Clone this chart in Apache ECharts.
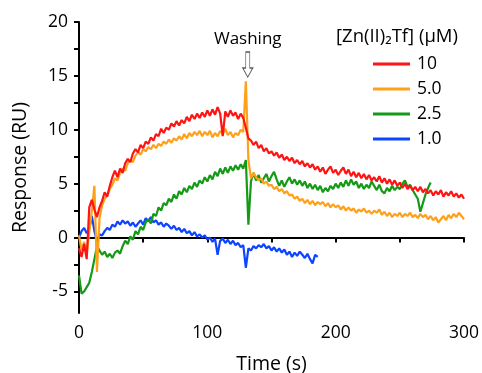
<!DOCTYPE html>
<html>
<head>
<meta charset="utf-8">
<script src="https://cdn.jsdelivr.net/npm/echarts@6/dist/echarts.min.js"></script>
<style>
  html, body { margin: 0; padding: 0; background: #fff; }
  #chart { width: 482px; height: 373px; }
</style>
</head>
<body>
<div id="chart"></div>
<script>
// sampling step of every trace (s)
const step = 2

const legendNames = ['10', '5.0', '2.5', '1.0']

// [Zn(II)2Tf] = 10 uM, t = 0..300
const red = [
  -1.0, -1.8, -0.6, -2.0, 2.8, 3.5, 2.6, 1.9, 2.8, 3.4,
  4.2, 3.8, 4.8, 5.6, 6.2, 5.6, 6.4, 6.0, 6.9, 7.3,
  7.0, 7.8, 8.2, 7.9, 8.6, 8.3, 8.9, 8.7, 9.3, 9.0,
  9.6, 9.4, 10.1, 9.7, 10.2, 10.0, 10.6, 10.3, 10.8, 10.4,
  10.9, 10.6, 11.2, 10.8, 11.4, 11.0, 11.5, 11.1, 11.6, 11.2,
  11.8, 11.3, 11.9, 11.4, 12.1, 11.5, 9.4, 11.7, 11.2, 11.8,
  11.3, 11.6, 11.0, 11.5, 11.1, 10.2, 9.2, 9.0, 8.6, 8.9,
  8.3, 8.6, 8.0, 8.3, 7.8, 8.0, 7.6, 7.9, 7.4, 7.7,
  7.2, 7.5, 7.1, 7.4, 6.9, 7.2, 6.8, 7.1, 6.6, 6.9,
  6.5, 6.8, 6.3, 6.6, 6.1, 6.5, 5.9, 6.3, 6.6, 6.0,
  6.3, 5.8, 6.2, 6.5, 5.9, 6.3, 5.7, 6.1, 5.6, 6.0,
  5.5, 5.9, 5.4, 5.8, 5.3, 5.6, 5.2, 5.7, 5.1, 5.5,
  5.0, 5.4, 4.9, 5.3, 4.8, 5.1, 4.6, 5.0, 4.5, 4.8,
  4.4, 4.7, 4.3, 4.7, 4.2, 4.5, 4.1, 4.4, 3.9, 4.3,
  4.0, 4.4, 3.8, 4.2, 3.9, 4.3, 3.8, 4.1, 3.7, 4.0,
  3.6
]

// 5.0 uM, t = 0..300
const orange = [
  0.2, -1.2, -0.4, -1.5, 0.5, 2.5, 4.8, -3.2, 1.8, 3.0,
  3.6, 3.9, 4.5, 4.9, 5.5, 5.3, 6.0, 6.4, 6.2, 6.9,
  7.2, 7.0, 7.6, 7.9, 7.7, 8.2, 8.0, 8.4, 8.2, 8.6,
  8.3, 8.7, 8.5, 8.9, 8.7, 9.1, 8.8, 9.2, 9.0, 9.4,
  9.1, 9.6, 9.2, 9.7, 9.4, 9.8, 9.5, 9.9, 9.4, 9.8,
  9.5, 9.9, 9.3, 9.7, 9.4, 9.9, 9.6, 10.1, 9.5, 9.8,
  9.3, 9.7, 9.5, 10.0, 9.8, 14.5, 7.2, 5.5, 6.0, 5.6,
  5.3, 5.5, 5.0, 5.2, 4.8, 4.9, 4.5, 4.7, 4.3, 4.5,
  4.1, 4.3, 3.9, 4.0, 3.6, 3.8, 3.4, 3.6, 3.2, 3.5,
  3.1, 3.4, 3.0, 3.3, 3.1, 3.3, 2.9, 3.2, 2.8, 3.1,
  2.8, 3.0, 2.6, 2.9, 2.5, 2.8, 2.5, 2.7, 2.3, 2.6,
  2.4, 2.7, 2.3, 2.5, 2.2, 2.5, 2.3, 2.6, 2.1, 2.4,
  2.0, 2.3, 1.9, 2.2, 2.0, 2.3, 1.9, 2.2, 2.0, 2.3,
  1.9, 2.1, 1.8, 2.2, 1.9, 2.1, 1.7, 2.0, 1.6, 1.9,
  1.4, 1.7, 2.0, 1.6, 2.1, 1.8, 2.2, 1.9, 2.3, 2.0,
  1.7
]

// 2.5 uM, t = 0..274
const green = [
  -3.5, -5.2, -5.0, -4.6, -4.2, -3.2, -2.0, -0.8, -1.2, -1.6,
  -1.3, -1.8, -1.5, -1.9, -1.4, -1.2, -1.5, -0.8, -0.3, -0.6,
  0.1, -0.2, 0.6, 0.3, 1.0, 0.7, 1.4, 1.7, 1.3, 2.2,
  2.0, 2.8, 2.5, 3.2, 3.0, 3.6, 3.3, 4.0, 3.6, 4.3,
  4.0, 4.6, 4.2, 4.8, 4.5, 5.1, 4.7, 5.3, 5.0, 5.6,
  5.2, 5.8, 5.4, 6.1, 5.7, 6.4, 5.9, 6.5, 6.0, 6.6,
  6.2, 6.7, 6.3, 6.8, 6.4, 7.2, 1.2, 5.2, 6.0, 5.3,
  5.8, 5.1, 5.5, 5.9, 5.2, 5.7, 6.1, 5.4, 4.8, 5.3,
  4.7, 5.2, 5.6, 5.0, 5.4, 4.9, 5.3, 4.8, 5.2, 4.6,
  5.0, 4.5, 4.9, 4.4, 4.8, 4.2, 4.6, 4.3, 4.8, 4.5,
  5.0, 4.6, 5.1, 4.7, 5.3, 4.8, 5.4, 4.9, 5.2, 4.6,
  5.0, 4.5, 4.9, 4.6, 5.2, 4.8, 4.4, 4.9, 4.3, 4.1,
  4.6, 4.3, 4.8, 4.4, 4.7, 4.5, 5.0, 5.3, 4.7, 4.9,
  4.4, 4.0, 3.6, 2.4, 3.2, 4.0, 4.6, 5.1
]

// 1.0 uM, t = 0..186
const blue = [
  0.0, 0.6, 0.9, 0.4, 0.8, 2.0, 0.6, -0.4, 0.3, 0.2,
  0.6, 0.9, 0.7, 1.2, 1.0, 1.5, 1.2, 1.6, 1.3, 1.5,
  1.1, 1.4, 1.0, 1.3, 1.6, 1.2, 1.8, 1.5, 1.9, 1.4,
  1.6, 1.2, 1.4, 1.0, 1.3, 1.1, 0.8, 1.1, 0.7, 0.9,
  0.5, 0.8, 0.4, 0.6, 0.2, 0.5, 0.1, 0.3, 0.0, 0.2,
  -0.2, 0.0, -0.4, -0.1, -1.6, -0.3, -0.1, -0.5, -0.2, -0.6,
  -0.3, -0.7, -0.5, -0.9, -0.7, -2.8, -1.0, -1.2, -0.8, -1.0,
  -0.7, -0.9, -0.6, -1.0, -0.8, -1.2, -0.9, -1.3, -1.0, -1.4,
  -1.1, -1.6, -1.3, -1.8, -1.4, -1.7, -1.3, -1.6, -1.9, -1.5,
  -2.0, -2.4, -1.6, -1.8
]

const xTicks = [0, 50, 100, 150, 200, 250, 300]
const xLabels = [0, 100, 200, 300]
const yTicks = [-5, -2.5, 0, 2.5, 5, 7.5, 10, 12.5, 15, 17.5, 20]
const yLabels = [-5, 0, 5, 10, 15, 20]

const washTime = 131.5

const colors = ['#ff1414', '#ffa01a', '#159a17', '#0d44ff']
const font = 'Open Sans'

const toPairs = (arr) => arr.map((v, i) => [i * step, v])

const initChart = () => {
  let myChart = echarts.init(document.getElementById('chart'))
  let axisCommon = {
    axisLine: { show: true, lineStyle: { color: '#000', width: 2 } },
    axisTick: { show: true, length: 5, lineStyle: { color: '#000', width: 2 } },
    splitLine: { show: false },
    axisLabel: { color: '#000', fontSize: 17.5, fontFamily: font, margin: 11 },
    nameTextStyle: { color: '#000', fontSize: 19.5, fontFamily: font },
  }
  let option = {
    animation: false,
    color: colors,
    title: {
      text: '[Zn(II)\u2082Tf] (\u03bcM)',
      left: 331,
      top: 22,
      textStyle: { color: '#000', fontSize: 18.5, fontWeight: 'normal', fontFamily: font },
    },
    legend: {
      data: legendNames,
      orient: 'vertical',
      left: 368,
      top: 50,
      itemWidth: 37,
      itemHeight: 3,
      itemGap: 7,
      icon: 'rect',
      textStyle: { color: '#000', fontSize: 17.5, fontFamily: font, padding: [0, 0, 0, 2] },
    },
    grid: { left: 79, right: 18, top: 22, bottom: 60, outerBoundsMode: 'none', containLabel: false },
    xAxis: {
      ...axisCommon,
      type: 'value',
      min: 0,
      max: 300,
      name: 'Time (s)',
      nameLocation: 'middle',
      nameGap: 41,
      axisTick: { ...axisCommon.axisTick, customValues: xTicks },
      axisLabel: { ...axisCommon.axisLabel, customValues: xLabels },
    },
    yAxis: {
      ...axisCommon,
      type: 'value',
      min: -7,
      max: 20,
      name: 'Response (RU)',
      nameLocation: 'middle',
      nameGap: 49,
      axisTick: { ...axisCommon.axisTick, customValues: yTicks },
      axisLabel: { ...axisCommon.axisLabel, customValues: yLabels },
    },
    series: [
      { name: legendNames[0], type: 'line', data: toPairs(red), showSymbol: false, lineStyle: { width: 2.2 }, z: 4 },
      {
        name: legendNames[1], type: 'line', data: toPairs(orange), showSymbol: false, lineStyle: { width: 2.2 }, z: 3,
        markPoint: {
          silent: true,
          symbol: 'path://M3,0 L7,0 L7,16 L10,16 L5,25 L0,16 L3,16 Z',
          symbolSize: [10, 25],
          itemStyle: { color: '#fff', borderColor: '#555', borderWidth: 1 },
          label: {
            show: true,
            position: 'top',
            distance: 4,
            formatter: 'Washing',
            color: '#000',
            fontSize: 17,
            fontFamily: font,
          },
          data: [{ coord: [washTime, 16.05] }],
        },
      },
      { name: legendNames[2], type: 'line', data: toPairs(green), showSymbol: false, lineStyle: { width: 2.2 }, z: 2 },
      { name: legendNames[3], type: 'line', data: toPairs(blue), showSymbol: false, lineStyle: { width: 2.2 }, z: 1 },
    ],
  }
  myChart.setOption(option)
}

initChart()
</script>
</body>
</html>
